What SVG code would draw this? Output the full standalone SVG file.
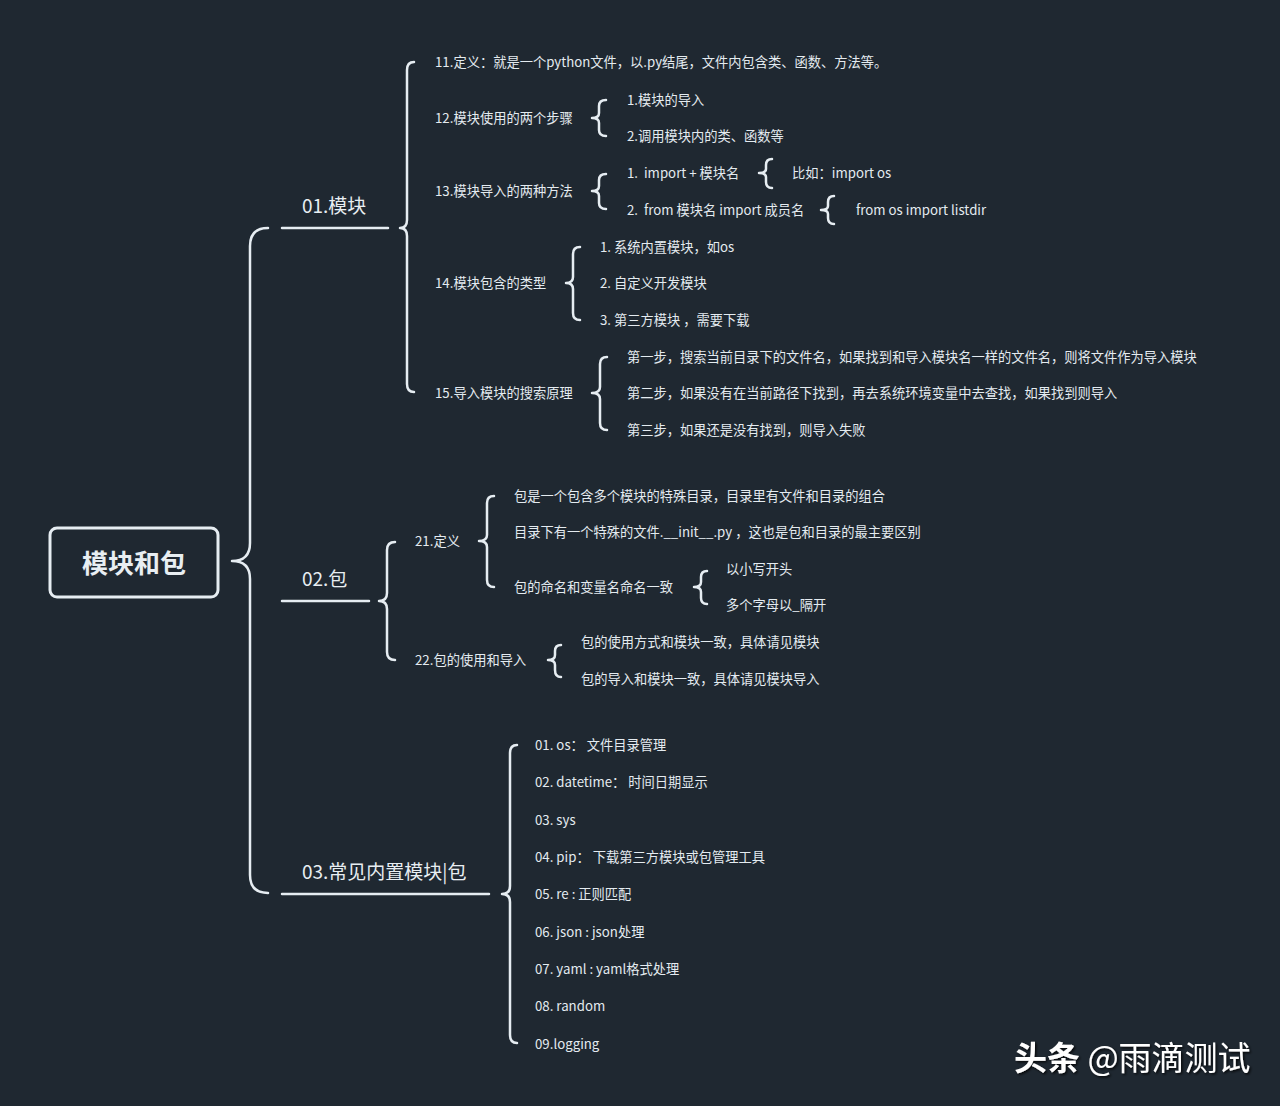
<svg xmlns="http://www.w3.org/2000/svg" width="1280" height="1106" viewBox="0 0 1280 1106">
<defs>
<style>
.t{font-family:"Noto Sans CJK SC","Noto Sans",sans-serif;font-size:13.25px;fill:#e4ebf0;dominant-baseline:central}
.b{font-family:"Noto Sans CJK SC","Noto Sans",sans-serif;font-size:19px;fill:#e8eef2;dominant-baseline:central}
.br{fill:none;stroke:#e6edf2;stroke-width:2.5;stroke-linecap:round;stroke-linejoin:round}
.ln{stroke:#e6edf2;stroke-width:2.5;stroke-linecap:round}
</style>
<filter id="sh" x="-10%" y="-30%" width="120%" height="160%">
<feDropShadow dx="1.5" dy="1.5" stdDeviation="1" flood-color="#000" flood-opacity="0.8"/>
</filter>
</defs>
<rect width="1280" height="1106" fill="#1f2831"/>

<g id="connectors">
<path class="br" stroke-width="3" d="M268,228 Q250,228 250,246 L250,543 Q250,561 232,561 Q250,561 250,579 L250,875 Q250,893 268,893"/>
<line class="ln" x1="282" y1="228" x2="388" y2="228"/>
<line class="ln" x1="282" y1="601" x2="369" y2="601"/>
<line class="ln" x1="282" y1="894" x2="489" y2="894"/>
<path class="br" d="M414,62 Q407,62 407,70 L407,220 Q407,228 400,228 Q407,228 407,236 L407,384 Q407,392 414,392"/>
<path class="br" d="M395,542 Q387,542 387,550 L387,593 Q387,601 379,601 Q387,601 387,609 L387,652 Q387,660 395,660"/>
<path class="br" d="M517,745 Q510,745 510,753 L510,886 Q510,894 502,894 Q510,894 510,902 L510,1035 Q510,1043 517,1043"/>
<path class="br" stroke-width="3" d="M606,100 Q599,100 599,106 L599,113 Q599,118 592,118 Q599,118 599,123 L599,130 Q599,136 606,136"/>
<path class="br" stroke-width="3" d="M606,174 Q599,174 599,180 L599,186 Q599,191 592,191 Q599,191 599,196 L599,203 Q599,209 606,209"/>
<path class="br" stroke-width="3" d="M772,159 Q766,159 766,165 L766,169 Q766,173 759,173 Q766,173 766,177 L766,182 Q766,188 772,188"/>
<path class="br" stroke-width="3" d="M834,196 Q828,196 828,202 L828,206 Q828,210 821,210 Q828,210 828,214 L828,218 Q828,224 834,224"/>
<path class="br" d="M580,247 Q573,247 573,254 L573,277 Q573,283 566,283 Q573,283 573,289 L573,313 Q573,320 580,320"/>
<path class="br" d="M607,357 Q600,357 600,364 L600,387 Q600,393 592,393 Q600,393 600,399 L600,423 Q600,430 607,430"/>
<path class="br" d="M494,496 Q487,496 487,503 L487,535 Q487,541 479,541 Q487,541 487,547 L487,580 Q487,587 494,587"/>
<path class="br" stroke-width="3" d="M707,571 Q701,571 701,577 L701,582 Q701,587 694,587 Q701,587 701,592 L701,598 Q701,604 707,604"/>
<path class="br" stroke-width="3" d="M561,645 Q555,645 555,651 L555,655 Q555,660 548,660 Q555,660 555,665 L555,670 Q555,677 561,677"/>
</g>

<g id="root">
<rect x="50" y="528" width="168" height="69" rx="7" fill="none" stroke="#e6edf2" stroke-width="3"/>
<text x="134" y="561" text-anchor="middle" style="font-family:'Noto Sans CJK SC',sans-serif;font-size:26px;font-weight:bold;fill:#e8eef2;dominant-baseline:central">模块和包</text>
</g>

<g id="n01"><text class="b" x="302" y="204">01.模块</text></g>
<g id="n02"><text class="b" x="302" y="577">02.包</text></g>
<g id="n03"><text class="b" x="302" y="870">03.常见内置模块|包</text></g>

<g id="n11"><text class="t" x="435" y="61">11.定义：就是一个python文件，以.py结尾，文件内包含类、函数、方法等。</text></g>
<g id="n12"><text class="t" x="435" y="117">12.模块使用的两个步骤</text></g>
<g id="n12a"><text class="t" x="627" y="99">1.模块的导入</text></g>
<g id="n12b"><text class="t" x="627" y="135">2.调用模块内的类、函数等</text></g>
<g id="n13"><text class="t" x="435" y="190">13.模块导入的两种方法</text></g>
<g id="n13a"><text class="t" x="627" y="172" xml:space="preserve">1.  import + 模块名</text></g>
<g id="n13a1"><text class="t" x="792" y="172">比如：import os</text></g>
<g id="n13b"><text class="t" x="627" y="209" xml:space="preserve">2.  from 模块名 import 成员名</text></g>
<g id="n13b1"><text class="t" x="856" y="209">from os import listdir</text></g>
<g id="n14"><text class="t" x="435" y="282">14.模块包含的类型</text></g>
<g id="n14a"><text class="t" x="600" y="246">1. 系统内置模块，如os</text></g>
<g id="n14b"><text class="t" x="600" y="282">2. 自定义开发模块</text></g>
<g id="n14c"><text class="t" x="600" y="319">3. 第三方模块 ，需要下载</text></g>
<g id="n15"><text class="t" x="435" y="392">15.导入模块的搜索原理</text></g>
<g id="n15a"><text class="t" x="627" y="356">第一步，搜索当前目录下的文件名，如果找到和导入模块名一样的文件名，则将文件作为导入模块</text></g>
<g id="n15b"><text class="t" x="627" y="392">第二步，如果没有在当前路径下找到，再去系统环境变量中去查找，如果找到则导入</text></g>
<g id="n15c"><text class="t" x="627" y="429">第三步，如果还是没有找到，则导入失败</text></g>

<g id="n21"><text class="t" x="415" y="540">21.定义</text></g>
<g id="n21a"><text class="t" x="514" y="495">包是一个包含多个模块的特殊目录，目录里有文件和目录的组合</text></g>
<g id="n21b"><text class="t" x="514" y="531">目录下有一个特殊的文件.__init__.py ，这也是包和目录的最主要区别</text></g>
<g id="n21c"><text class="t" x="514" y="586">包的命名和变量名命名一致</text></g>
<g id="n21c1"><text class="t" x="726" y="568">以小写开头</text></g>
<g id="n21c2"><text class="t" x="726" y="604">多个字母以_隔开</text></g>
<g id="n22"><text class="t" x="415" y="659">22.包的使用和导入</text></g>
<g id="n22a"><text class="t" x="581" y="641">包的使用方式和模块一致，具体请见模块</text></g>
<g id="n22b"><text class="t" x="581" y="678">包的导入和模块一致，具体请见模块导入</text></g>

<g id="n31"><text class="t" x="535" y="744">01. os： 文件目录管理</text></g>
<g id="n32"><text class="t" x="535" y="781">02. datetime： 时间日期显示</text></g>
<g id="n33"><text class="t" x="535" y="819">03. sys</text></g>
<g id="n34"><text class="t" x="535" y="856">04. pip： 下载第三方模块或包管理工具</text></g>
<g id="n35"><text class="t" x="535" y="893">05. re : 正则匹配</text></g>
<g id="n36"><text class="t" x="535" y="931">06. json : json处理</text></g>
<g id="n37"><text class="t" x="535" y="968">07. yaml : yaml格式处理</text></g>
<g id="n38"><text class="t" x="535" y="1005">08. random</text></g>
<g id="n39"><text class="t" x="535" y="1043">09.logging</text></g>

<g id="watermark" filter="url(#sh)">
<text x="1014" y="1070" style="font-family:'Noto Sans CJK SC',sans-serif;font-size:33px;fill:#ffffff"><tspan font-weight="bold">头条</tspan> @雨滴测试</text>
</g>
</svg>
